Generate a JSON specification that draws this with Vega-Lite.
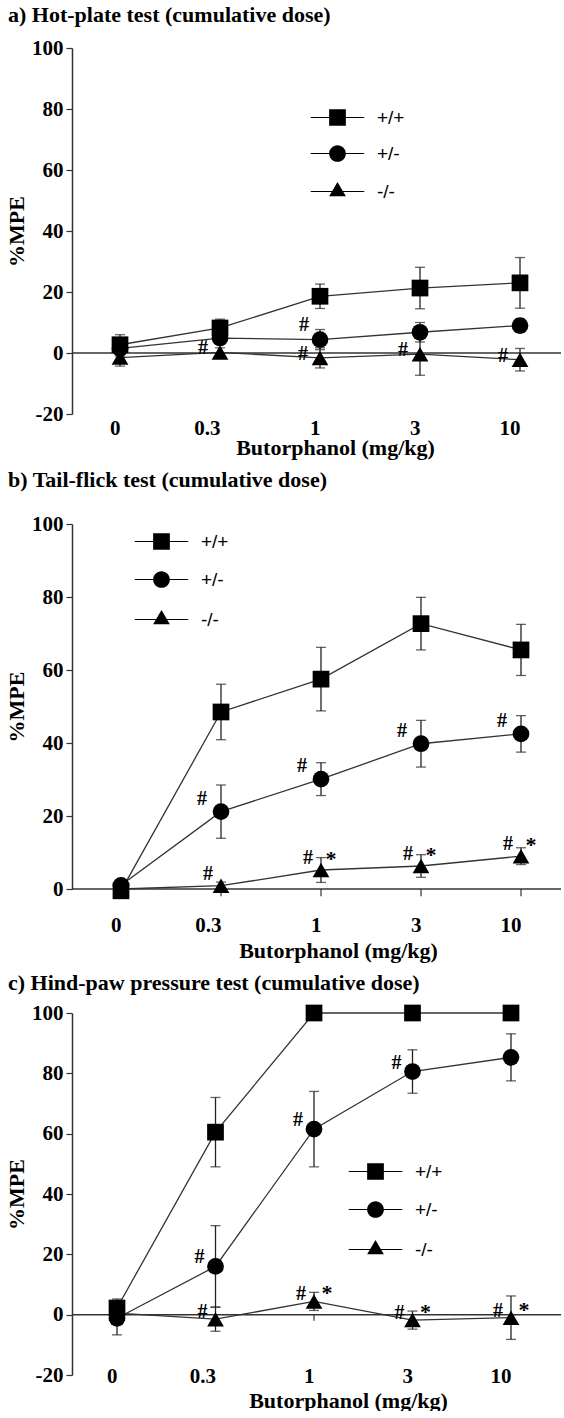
{
  "$schema": "https://vega.github.io/schema/vega-lite/v6.json",
  "background": "white",
  "padding": {"left": 5, "top": 4, "right": 0, "bottom": 0},
  "spacing": 11,
  "config": {
    "view": {"stroke": null},
    "axis": {"labelFont": "Liberation Serif", "labelFontWeight": "bold", "labelColor": "black", "titleFont": "Liberation Serif", "titleFontWeight": "bold", "titleColor": "black", "grid": false},
    "title": {"font": "Liberation Serif", "fontWeight": "bold", "fontSize": 22, "color": "black", "anchor": "start", "frame": "group"},
    "legend": {"labelFont": "Liberation Sans", "labelFontSize": 19, "labelColor": "black"}
  },
  "resolve": {"scale": {"x": "independent", "y": "independent", "shape": "independent"}, "legend": {"shape": "independent"}},
  "datasets": {
    "d": [
      {"panel": "a", "genotype": "+/+", "dose": 0, "mean": 2.7, "sem": 3.3, "hash": "", "star": ""},
      {"panel": "a", "genotype": "+/+", "dose": 0.3, "mean": 8.2, "sem": 2.9, "hash": "", "star": ""},
      {"panel": "a", "genotype": "+/+", "dose": 1, "mean": 18.6, "sem": 4.0, "hash": "", "star": ""},
      {"panel": "a", "genotype": "+/+", "dose": 3, "mean": 21.3, "sem": 6.8, "hash": "", "star": ""},
      {"panel": "a", "genotype": "+/+", "dose": 10, "mean": 23.0, "sem": 8.3, "hash": "", "star": ""},
      {"panel": "a", "genotype": "+/-", "dose": 0, "mean": 1.5, "sem": 2.5, "hash": "", "star": ""},
      {"panel": "a", "genotype": "+/-", "dose": 0.3, "mean": 4.9, "sem": 2.0, "hash": "", "star": ""},
      {"panel": "a", "genotype": "+/-", "dose": 1, "mean": 4.4, "sem": 3.3, "hash": "#", "star": ""},
      {"panel": "a", "genotype": "+/-", "dose": 3, "mean": 6.8, "sem": 3.2, "hash": "", "star": ""},
      {"panel": "a", "genotype": "+/-", "dose": 10, "mean": 9.0, "sem": 2.2, "hash": "", "star": ""},
      {"panel": "a", "genotype": "-/-", "dose": 0, "mean": -1.5, "sem": 2.8, "hash": "", "star": ""},
      {"panel": "a", "genotype": "-/-", "dose": 0.3, "mean": 0.2, "sem": 1.5, "hash": "#", "star": ""},
      {"panel": "a", "genotype": "-/-", "dose": 1, "mean": -1.6, "sem": 3.3, "hash": "#", "star": ""},
      {"panel": "a", "genotype": "-/-", "dose": 3, "mean": -0.4, "sem": 6.9, "hash": "#", "star": ""},
      {"panel": "a", "genotype": "-/-", "dose": 10, "mean": -2.2, "sem": 3.7, "hash": "#", "star": ""},
      {"panel": "b", "genotype": "+/+", "dose": 0, "mean": -0.5, "sem": 1.0, "hash": "", "star": ""},
      {"panel": "b", "genotype": "+/+", "dose": 0.3, "mean": 48.5, "sem": 7.6, "hash": "", "star": ""},
      {"panel": "b", "genotype": "+/+", "dose": 1, "mean": 57.5, "sem": 8.7, "hash": "", "star": ""},
      {"panel": "b", "genotype": "+/+", "dose": 3, "mean": 72.7, "sem": 7.2, "hash": "", "star": ""},
      {"panel": "b", "genotype": "+/+", "dose": 10, "mean": 65.5, "sem": 7.0, "hash": "", "star": ""},
      {"panel": "b", "genotype": "+/-", "dose": 0, "mean": 1.0, "sem": 1.0, "hash": "", "star": ""},
      {"panel": "b", "genotype": "+/-", "dose": 0.3, "mean": 21.2, "sem": 7.3, "hash": "#", "star": ""},
      {"panel": "b", "genotype": "+/-", "dose": 1, "mean": 30.1, "sem": 4.5, "hash": "#", "star": ""},
      {"panel": "b", "genotype": "+/-", "dose": 3, "mean": 39.8, "sem": 6.4, "hash": "#", "star": ""},
      {"panel": "b", "genotype": "+/-", "dose": 10, "mean": 42.5, "sem": 5.0, "hash": "#", "star": ""},
      {"panel": "b", "genotype": "-/-", "dose": 0, "mean": 0.0, "sem": 1.0, "hash": "", "star": ""},
      {"panel": "b", "genotype": "-/-", "dose": 0.3, "mean": 0.9, "sem": 1.0, "hash": "#", "star": ""},
      {"panel": "b", "genotype": "-/-", "dose": 1, "mean": 5.2, "sem": 3.4, "hash": "#", "star": "*"},
      {"panel": "b", "genotype": "-/-", "dose": 3, "mean": 6.3, "sem": 3.1, "hash": "#", "star": "*"},
      {"panel": "b", "genotype": "-/-", "dose": 10, "mean": 9.0, "sem": 2.3, "hash": "#", "star": "*"},
      {"panel": "c", "genotype": "+/+", "dose": 0, "mean": 2.2, "sem": 3.0, "hash": "", "star": ""},
      {"panel": "c", "genotype": "+/+", "dose": 0.3, "mean": 60.5, "sem": 11.5, "hash": "", "star": ""},
      {"panel": "c", "genotype": "+/+", "dose": 1, "mean": 100, "sem": 0, "hash": "", "star": ""},
      {"panel": "c", "genotype": "+/+", "dose": 3, "mean": 100, "sem": 0, "hash": "", "star": ""},
      {"panel": "c", "genotype": "+/+", "dose": 10, "mean": 100, "sem": 0, "hash": "", "star": ""},
      {"panel": "c", "genotype": "+/-", "dose": 0, "mean": -1.2, "sem": 5.5, "hash": "", "star": ""},
      {"panel": "c", "genotype": "+/-", "dose": 0.3, "mean": 16.0, "sem": 13.5, "hash": "#", "star": ""},
      {"panel": "c", "genotype": "+/-", "dose": 1, "mean": 61.5, "sem": 12.5, "hash": "#", "star": ""},
      {"panel": "c", "genotype": "+/-", "dose": 3, "mean": 80.6, "sem": 7.2, "hash": "#", "star": ""},
      {"panel": "c", "genotype": "+/-", "dose": 10, "mean": 85.3, "sem": 7.8, "hash": "", "star": ""},
      {"panel": "c", "genotype": "-/-", "dose": 0, "mean": 0.5, "sem": 2.0, "hash": "", "star": ""},
      {"panel": "c", "genotype": "-/-", "dose": 0.3, "mean": -1.5, "sem": 4.0, "hash": "#", "star": ""},
      {"panel": "c", "genotype": "-/-", "dose": 1, "mean": 4.4, "sem": 3.0, "hash": "#", "star": "*"},
      {"panel": "c", "genotype": "-/-", "dose": 3, "mean": -1.8, "sem": 3.0, "hash": "#", "star": "*"},
      {"panel": "c", "genotype": "-/-", "dose": 10, "mean": -1.0, "sem": 7.2, "hash": "#", "star": "*"}
    ]
  },
  "vconcat": [
    {
      "width": 489, "height": 366,
      "title": {"text": "a) Hot-plate test (cumulative dose)", "dx": -64, "offset": 10},
      "data": {"name": "d"},
      "transform": [{"filter": "datum.panel === 'a'"}],
      "layer": [
        {"transform": [{"filter": "datum.genotype === '+/+' && datum.dose === 0"}], "mark": {"type": "rule", "color": "#333", "strokeWidth": 1.5}, "encoding": {"y": {"datum": 0, "type": "quantitative", "title": "%MPE"}}},
        {"transform": [{"filter": "datum.genotype === '+/+'"}], "mark": {"type": "rule", "color": "#333", "strokeWidth": 1.2}, "encoding": {"x": {"field": "dose", "type": "ordinal", "title": "Butorphanol (mg/kg)"}, "y": {"datum": 0, "type": "quantitative", "title": "%MPE"}, "y2": {"datum": -2}}},
        {"mark": {"type": "errorbar", "color": "#222", "size": 10, "thickness": 1.3, "ticks": true},
         "encoding": {
           "x": {"field": "dose", "type": "ordinal", "title": "Butorphanol (mg/kg)",
                 "scale": {"type": "point", "domain": [0, 0.3, 1, 3, 10], "range": [48, 448], "padding": 0},
                 "axis": {"domain": false, "ticks": false, "tickSize": 0, "labelAngle": 0, "labelFontSize": 21, "labelBaseline": "alphabetic", "labelPadding": 20, "titleFontSize": 22, "titleBaseline": "alphabetic", "titleX": 263, "titleY": 40}},
           "y": {"field": "mean", "type": "quantitative", "title": "%MPE",
                 "scale": {"domain": [-20, 100], "nice": false, "zero": false},
                 "axis": {"values": [-20, -10, 0, 10, 20, 30, 40, 50, 60, 70, 80, 90, 100], "labelExpr": "datum.value % 20 === 0 ? '' + datum.value : ''", "tickSize": {"condition": {"test": "datum.value % 20 === 0", "value": 6}, "value": 3}, "tickColor": {"condition": {"test": "datum.value % 20 === 0", "value": "#333"}, "value": "#bbb"}, "tickWidth": 1.2, "domainColor": "#333", "domainWidth": 1.5, "labelFontSize": 21, "labelPadding": 3, "titleFontSize": 22, "titlePadding": 3}},
           "yError": {"field": "sem"}
         }},
        {"mark": {"type": "line", "color": "#333", "strokeWidth": 1.3}, "encoding": {"x": {"field": "dose", "type": "ordinal", "title": "Butorphanol (mg/kg)"}, "y": {"field": "mean", "type": "quantitative", "title": "%MPE"}, "detail": {"field": "genotype"}}},
        {"transform": [{"filter": "datum.genotype === '+/+'"}], "mark": {"type": "point", "shape": "square", "filled": true, "color": "black", "size": 280, "opacity": 1}, "encoding": {"x": {"field": "dose", "type": "ordinal", "title": "Butorphanol (mg/kg)"}, "y": {"field": "mean", "type": "quantitative", "title": "%MPE"}}},
        {"transform": [{"filter": "datum.genotype === '+/-'"}], "mark": {"type": "point", "shape": "circle", "filled": true, "color": "black", "size": 280, "opacity": 1}, "encoding": {"x": {"field": "dose", "type": "ordinal", "title": "Butorphanol (mg/kg)"}, "y": {"field": "mean", "type": "quantitative", "title": "%MPE"}}},
        {"transform": [{"filter": "datum.genotype === '-/-'"}], "mark": {"type": "point", "shape": "triangle-up", "filled": true, "color": "black", "size": 280, "opacity": 1}, "encoding": {"x": {"field": "dose", "type": "ordinal", "title": "Butorphanol (mg/kg)"}, "y": {"field": "mean", "type": "quantitative", "title": "%MPE"}}},
        {"mark": {"type": "point", "filled": true, "fill": "black", "stroke": "black", "strokeWidth": 1, "size": 280, "opacity": 0},
         "encoding": {"x": {"field": "dose", "type": "ordinal", "title": "Butorphanol (mg/kg)"}, "y": {"field": "mean", "type": "quantitative", "title": "%MPE"},
           "shape": {"field": "genotype", "type": "nominal", "scale": {"domain": ["+/+", "+/-", "-/-"], "range": ["M-3.2,-0.07H3.2V0.07H-3.2ZM-1,-1H1V1H-1Z", "M-3.2,-0.07H3.2V0.07H-3.2ZM-1,0A1,1,0,1,1,1,0A1,1,0,1,1,-1,0Z", "M-3.2,-0.07H3.2V0.07H-3.2ZM0,-1.15L1,0.58H-1Z"]},
             "legend": {"orient": "none", "legendX": 256, "legendY": 60, "title": null, "padding": 0, "rowPadding": 16, "symbolSize": 280, "symbolOpacity": 1, "symbolFillColor": "black", "symbolStrokeColor": "black", "symbolStrokeWidth": 0.5, "labelOffset": 30}}}},
        {"transform": [{"filter": "datum.genotype === '+/-' && datum.hash === '#'"}], "mark": {"type": "text", "text": "#", "dx": -16, "dy": -15, "font": "Liberation Serif", "fontWeight": "bold", "fontSize": 20, "color": "black"}, "encoding": {"x": {"field": "dose", "type": "ordinal", "title": "Butorphanol (mg/kg)"}, "y": {"field": "mean", "type": "quantitative", "title": "%MPE"}}},
        {"transform": [{"filter": "datum.genotype === '-/-' && datum.hash === '#'"}], "mark": {"type": "text", "text": "#", "dx": -17, "dy": -4, "font": "Liberation Serif", "fontWeight": "bold", "fontSize": 20, "color": "black"}, "encoding": {"x": {"field": "dose", "type": "ordinal", "title": "Butorphanol (mg/kg)"}, "y": {"field": "mean", "type": "quantitative", "title": "%MPE"}}}
      ]
    },
    {
      "width": 489, "height": 365,
      "title": {"text": "b) Tail-flick test (cumulative dose)", "dx": -64, "offset": 21},
      "data": {"name": "d"},
      "transform": [{"filter": "datum.panel === 'b'"}],
      "layer": [
        {"transform": [{"filter": "datum.genotype === '+/+' && datum.dose === 0"}], "mark": {"type": "rule", "color": "#333", "strokeWidth": 1.5}, "encoding": {"y": {"datum": 0, "type": "quantitative", "title": "%MPE"}}},
        {"transform": [{"filter": "datum.genotype === '+/+'"}], "mark": {"type": "rule", "color": "#333", "strokeWidth": 1.2}, "encoding": {"x": {"field": "dose", "type": "ordinal", "title": "Butorphanol (mg/kg)"}, "y": {"datum": 0, "type": "quantitative", "title": "%MPE"}, "y2": {"datum": -2}}},
        {"mark": {"type": "errorbar", "color": "#222", "size": 10, "thickness": 1.3, "ticks": true},
         "encoding": {
           "x": {"field": "dose", "type": "ordinal", "title": "Butorphanol (mg/kg)",
                 "scale": {"type": "point", "domain": [0, 0.3, 1, 3, 10], "range": [49, 449], "padding": 0},
                 "axis": {"domain": false, "ticks": false, "tickSize": 0, "labelAngle": 0, "labelFontSize": 21, "labelBaseline": "alphabetic", "labelPadding": 42, "titleFontSize": 22, "titleBaseline": "alphabetic", "titleX": 266, "titleY": 68}},
           "y": {"field": "mean", "type": "quantitative", "title": "%MPE",
                 "scale": {"domain": [0, 100], "nice": false, "zero": false},
                 "axis": {"values": [0, 10, 20, 30, 40, 50, 60, 70, 80, 90, 100], "labelExpr": "datum.value % 20 === 0 ? '' + datum.value : ''", "tickSize": {"condition": {"test": "datum.value % 20 === 0", "value": 6}, "value": 3}, "tickColor": {"condition": {"test": "datum.value % 20 === 0", "value": "#333"}, "value": "#bbb"}, "tickWidth": 1.2, "domainColor": "#333", "domainWidth": 1.5, "labelFontSize": 21, "labelPadding": 3, "titleFontSize": 22, "titlePadding": 3}},
           "yError": {"field": "sem"}
         }},
        {"mark": {"type": "line", "color": "#333", "strokeWidth": 1.3}, "encoding": {"x": {"field": "dose", "type": "ordinal", "title": "Butorphanol (mg/kg)"}, "y": {"field": "mean", "type": "quantitative", "title": "%MPE"}, "detail": {"field": "genotype"}}},
        {"transform": [{"filter": "datum.genotype === '+/+'"}], "mark": {"type": "point", "shape": "square", "filled": true, "color": "black", "size": 280, "opacity": 1}, "encoding": {"x": {"field": "dose", "type": "ordinal", "title": "Butorphanol (mg/kg)"}, "y": {"field": "mean", "type": "quantitative", "title": "%MPE"}}},
        {"transform": [{"filter": "datum.genotype === '+/-'"}], "mark": {"type": "point", "shape": "circle", "filled": true, "color": "black", "size": 280, "opacity": 1}, "encoding": {"x": {"field": "dose", "type": "ordinal", "title": "Butorphanol (mg/kg)"}, "y": {"field": "mean", "type": "quantitative", "title": "%MPE"}}},
        {"transform": [{"filter": "datum.genotype === '-/-'"}], "mark": {"type": "point", "shape": "triangle-up", "filled": true, "color": "black", "size": 280, "opacity": 1}, "encoding": {"x": {"field": "dose", "type": "ordinal", "title": "Butorphanol (mg/kg)"}, "y": {"field": "mean", "type": "quantitative", "title": "%MPE"}}},
        {"mark": {"type": "point", "filled": true, "fill": "black", "stroke": "black", "strokeWidth": 1, "size": 280, "opacity": 0},
         "encoding": {"x": {"field": "dose", "type": "ordinal", "title": "Butorphanol (mg/kg)"}, "y": {"field": "mean", "type": "quantitative", "title": "%MPE"},
           "shape": {"field": "genotype", "type": "nominal", "scale": {"domain": ["+/+", "+/-", "-/-"], "range": ["M-3.2,-0.07H3.2V0.07H-3.2ZM-1,-1H1V1H-1Z", "M-3.2,-0.07H3.2V0.07H-3.2ZM-1,0A1,1,0,1,1,1,0A1,1,0,1,1,-1,0Z", "M-3.2,-0.07H3.2V0.07H-3.2ZM0,-1.15L1,0.58H-1Z"]},
             "legend": {"orient": "none", "legendX": 80, "legendY": 8, "title": null, "padding": 0, "rowPadding": 18, "symbolSize": 280, "symbolOpacity": 1, "symbolFillColor": "black", "symbolStrokeColor": "black", "symbolStrokeWidth": 0.5, "labelOffset": 30}}}},
        {"transform": [{"filter": "datum.genotype === '+/-' && datum.hash === '#'"}], "mark": {"type": "text", "text": "#", "dx": -19, "dy": -13, "font": "Liberation Serif", "fontWeight": "bold", "fontSize": 20, "color": "black"}, "encoding": {"x": {"field": "dose", "type": "ordinal", "title": "Butorphanol (mg/kg)"}, "y": {"field": "mean", "type": "quantitative", "title": "%MPE"}}},
        {"transform": [{"filter": "datum.genotype === '-/-' && datum.hash === '#'"}], "mark": {"type": "text", "text": "#", "dx": -13, "dy": -12, "font": "Liberation Serif", "fontWeight": "bold", "fontSize": 20, "color": "black"}, "encoding": {"x": {"field": "dose", "type": "ordinal", "title": "Butorphanol (mg/kg)"}, "y": {"field": "mean", "type": "quantitative", "title": "%MPE"}}},
        {"transform": [{"filter": "datum.star === '*'"}], "mark": {"type": "text", "text": "*", "dx": 10, "dy": -11, "font": "Liberation Serif", "fontWeight": "bold", "fontSize": 22, "color": "black"}, "encoding": {"x": {"field": "dose", "type": "ordinal", "title": "Butorphanol (mg/kg)"}, "y": {"field": "mean", "type": "quantitative", "title": "%MPE"}}}
      ]
    },
    {
      "width": 489, "height": 362,
      "title": {"text": "c) Hind-paw pressure test (cumulative dose)", "dx": -64, "offset": 7},
      "data": {"name": "d"},
      "transform": [{"filter": "datum.panel === 'c'"}],
      "layer": [
        {"transform": [{"filter": "datum.genotype === '+/+' && datum.dose === 0"}], "mark": {"type": "rule", "color": "#333", "strokeWidth": 1.5}, "encoding": {"y": {"datum": 0, "type": "quantitative", "title": "%MPE"}}},
        {"transform": [{"filter": "datum.genotype === '+/+'"}], "mark": {"type": "rule", "color": "#333", "strokeWidth": 1.2}, "encoding": {"x": {"field": "dose", "type": "ordinal", "title": "Butorphanol (mg/kg)"}, "y": {"datum": 0, "type": "quantitative", "title": "%MPE"}, "y2": {"datum": -2}}},
        {"mark": {"type": "errorbar", "color": "#222", "size": 10, "thickness": 1.3, "ticks": true},
         "encoding": {
           "x": {"field": "dose", "type": "ordinal", "title": "Butorphanol (mg/kg)",
                 "scale": {"type": "point", "domain": [0, 0.3, 1, 3, 10], "range": [45, 439], "padding": 0},
                 "axis": {"domain": false, "ticks": false, "tickSize": 0, "labelAngle": 0, "labelFontSize": 21, "labelBaseline": "alphabetic", "labelPadding": 7, "titleFontSize": 22, "titleBaseline": "alphabetic", "titleX": 276, "titleY": 32}},
           "y": {"field": "mean", "type": "quantitative", "title": "%MPE",
                 "scale": {"domain": [-20, 100], "nice": false, "zero": false},
                 "axis": {"values": [-20, -10, 0, 10, 20, 30, 40, 50, 60, 70, 80, 90, 100], "labelExpr": "datum.value % 20 === 0 ? '' + datum.value : ''", "tickSize": {"condition": {"test": "datum.value % 20 === 0", "value": 6}, "value": 3}, "tickColor": {"condition": {"test": "datum.value % 20 === 0", "value": "#333"}, "value": "#bbb"}, "tickWidth": 1.2, "domainColor": "#333", "domainWidth": 1.5, "labelFontSize": 21, "labelPadding": 3, "titleFontSize": 22, "titlePadding": 3}},
           "yError": {"field": "sem"}
         }},
        {"mark": {"type": "line", "color": "#333", "strokeWidth": 1.3}, "encoding": {"x": {"field": "dose", "type": "ordinal", "title": "Butorphanol (mg/kg)"}, "y": {"field": "mean", "type": "quantitative", "title": "%MPE"}, "detail": {"field": "genotype"}}},
        {"transform": [{"filter": "datum.genotype === '+/+'"}], "mark": {"type": "point", "shape": "square", "filled": true, "color": "black", "size": 280, "opacity": 1}, "encoding": {"x": {"field": "dose", "type": "ordinal", "title": "Butorphanol (mg/kg)"}, "y": {"field": "mean", "type": "quantitative", "title": "%MPE"}}},
        {"transform": [{"filter": "datum.genotype === '+/-'"}], "mark": {"type": "point", "shape": "circle", "filled": true, "color": "black", "size": 280, "opacity": 1}, "encoding": {"x": {"field": "dose", "type": "ordinal", "title": "Butorphanol (mg/kg)"}, "y": {"field": "mean", "type": "quantitative", "title": "%MPE"}}},
        {"transform": [{"filter": "datum.genotype === '-/-'"}], "mark": {"type": "point", "shape": "triangle-up", "filled": true, "color": "black", "size": 280, "opacity": 1}, "encoding": {"x": {"field": "dose", "type": "ordinal", "title": "Butorphanol (mg/kg)"}, "y": {"field": "mean", "type": "quantitative", "title": "%MPE"}}},
        {"mark": {"type": "point", "filled": true, "fill": "black", "stroke": "black", "strokeWidth": 1, "size": 280, "opacity": 0},
         "encoding": {"x": {"field": "dose", "type": "ordinal", "title": "Butorphanol (mg/kg)"}, "y": {"field": "mean", "type": "quantitative", "title": "%MPE"},
           "shape": {"field": "genotype", "type": "nominal", "scale": {"domain": ["+/+", "+/-", "-/-"], "range": ["M-3.2,-0.07H3.2V0.07H-3.2ZM-1,-1H1V1H-1Z", "M-3.2,-0.07H3.2V0.07H-3.2ZM-1,0A1,1,0,1,1,1,0A1,1,0,1,1,-1,0Z", "M-3.2,-0.07H3.2V0.07H-3.2ZM0,-1.15L1,0.58H-1Z"]},
             "legend": {"orient": "none", "legendX": 294, "legendY": 149, "title": null, "padding": 0, "rowPadding": 18, "symbolSize": 280, "symbolOpacity": 1, "symbolFillColor": "black", "symbolStrokeColor": "black", "symbolStrokeWidth": 0.5, "labelOffset": 30}}}},
        {"transform": [{"filter": "datum.genotype === '+/-' && datum.hash === '#'"}], "mark": {"type": "text", "text": "#", "dx": -16, "dy": -9, "font": "Liberation Serif", "fontWeight": "bold", "fontSize": 20, "color": "black"}, "encoding": {"x": {"field": "dose", "type": "ordinal", "title": "Butorphanol (mg/kg)"}, "y": {"field": "mean", "type": "quantitative", "title": "%MPE"}}},
        {"transform": [{"filter": "datum.genotype === '-/-' && datum.hash === '#'"}], "mark": {"type": "text", "text": "#", "dx": -13, "dy": -7, "font": "Liberation Serif", "fontWeight": "bold", "fontSize": 20, "color": "black"}, "encoding": {"x": {"field": "dose", "type": "ordinal", "title": "Butorphanol (mg/kg)"}, "y": {"field": "mean", "type": "quantitative", "title": "%MPE"}}},
        {"transform": [{"filter": "datum.star === '*'"}], "mark": {"type": "text", "text": "*", "dx": 13, "dy": -8, "font": "Liberation Serif", "fontWeight": "bold", "fontSize": 22, "color": "black"}, "encoding": {"x": {"field": "dose", "type": "ordinal", "title": "Butorphanol (mg/kg)"}, "y": {"field": "mean", "type": "quantitative", "title": "%MPE"}}}
      ]
    }
  ]
}
